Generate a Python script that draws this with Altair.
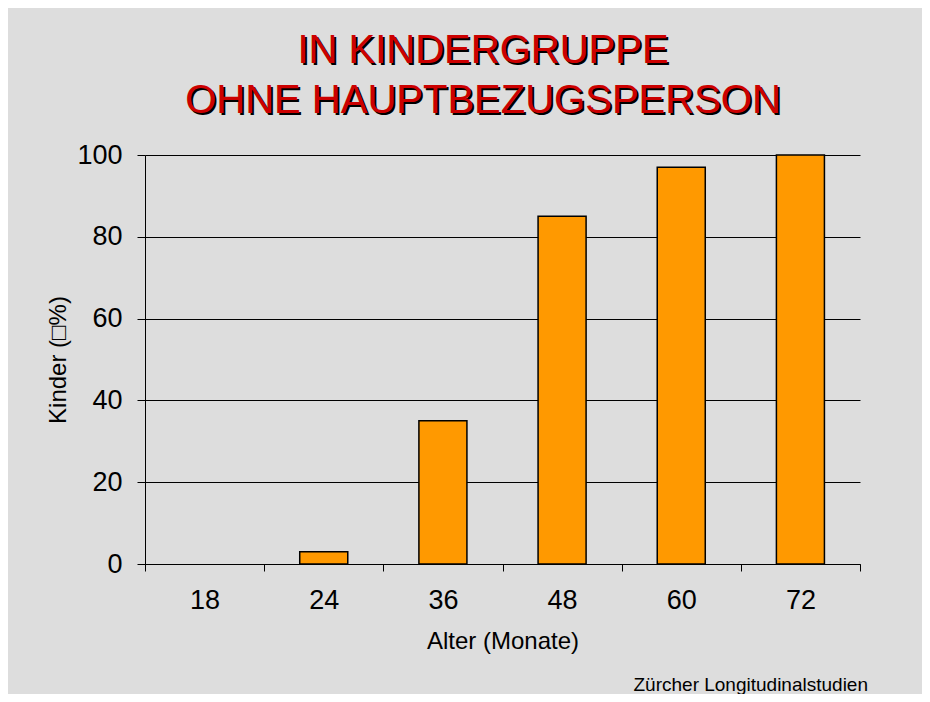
import altair as alt
import pandas as pd

ages = ["18", "24", "36", "48", "60", "72"]
kinder_pct = [0, 3, 35, 85, 97, 100]
title_lines = ["IN KINDERGRUPPE", "OHNE HAUPTBEZUGSPERSON"]
footer_text = "Zürcher Longitudinalstudien"
x_title = "Alter (Monate)"
y_title = "Kinder (\u25a1%)"
y_ticks = [0, 20, 40, 60, 80, 100]

df = pd.DataFrame({"Alter": ages, "Kinder": kinder_pct})
FONT = "Liberation Sans"

bars = alt.Chart(df).mark_bar(
    color="#FF9900", stroke="#000000", strokeWidth=1.5,
    width=alt.RelativeBandSize(0.403),
).encode(
    x=alt.X(
        "Alter:N",
        sort=ages,
        scale=alt.Scale(paddingInner=0, paddingOuter=0),
        axis=alt.Axis(
            title=x_title,
            labelAngle=0,
            tickBand="extent",
            tickSize=7,
            tickColor="#000000",
            domainColor="#000000",
            labelBaseline="alphabetic",
            labelPadding=37,
            labelFontSize=27,
            labelColor="#000000",
            labelFont=FONT,
            titleFont=FONT,
            titleFontSize=24,
            titleFontWeight="normal",
            titleColor="#000000",
            titleBaseline="alphabetic",
            titleY=84,
        ),
    ),
    y=alt.Y(
        "Kinder:Q",
        scale=alt.Scale(domain=[0, 100]),
        axis=alt.Axis(
            title=y_title,
            values=y_ticks,
            grid=True,
            gridColor="#000000",
            gridOpacity=1,
            gridWidth=1,
            tickSize=8,
            tickColor="#000000",
            domainColor="#000000",
            labelPadding=15,
            labelFontSize=27,
            labelColor="#000000",
            labelFont=FONT,
            titleFont=FONT,
            titleFontSize=24,
            titleFontWeight="normal",
            titleColor="#000000",
            titleAngle=-90,
            titleAlign="center",
            titleBaseline="middle",
            titleX=-87,
            titleY=204.5,
        ),
    ),
    opacity=alt.condition(alt.datum.Kinder > 0, alt.value(1), alt.value(0)),
)

one = alt.Data(values=[{}])

title_shadow = alt.Chart(one).mark_text(
    font=FONT, fontSize=40, color="#000000", align="center",
    baseline="alphabetic", lineHeight=50, dx=2, dy=2
).encode(x=alt.value(338), y=alt.value(-92), text=alt.value(title_lines))

title_red = alt.Chart(one).mark_text(
    font=FONT, fontSize=40, color="#CC0000", align="center",
    baseline="alphabetic", lineHeight=50
).encode(x=alt.value(338), y=alt.value(-92), text=alt.value(title_lines))

footer = alt.Chart(one).mark_text(
    font=FONT, fontSize=19, color="#000000", align="right",
    baseline="alphabetic"
).encode(x=alt.value(723), y=alt.value(536), text=alt.value(footer_text))

chart = alt.layer(bars, title_shadow, title_red, footer).properties(
    width=715,
    height=409,
    padding={"left": 137, "top": 147, "right": 62, "bottom": 130},
    autosize=alt.AutoSizeParams(type="none"),
    background="#DDDDDD",
).configure_view(stroke=None)

chart.save("out.html", embed_options={"renderer": "svg", "actions": False})
